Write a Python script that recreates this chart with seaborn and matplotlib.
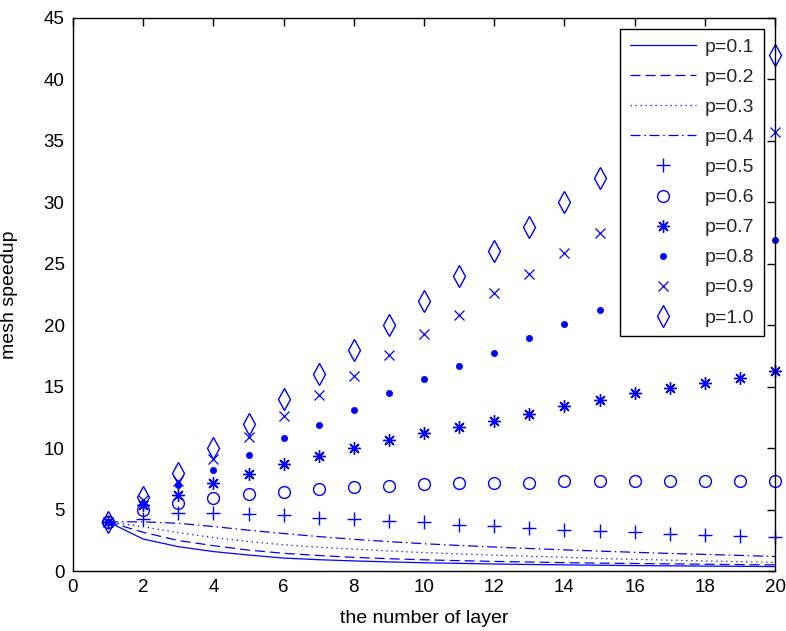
import matplotlib
matplotlib.use("Agg")
import matplotlib.pyplot as plt
import seaborn as sns

# number of layers on the x axis
layers = list(range(1, 21))

# mesh speedup for each probability p
p01 = [4.00, 2.60, 1.98, 1.58, 1.30, 1.05, 0.92, 0.82, 0.74, 0.67,
       0.62, 0.57, 0.53, 0.50, 0.47, 0.44, 0.42, 0.40, 0.38, 0.36]
p02 = [4.00, 3.15, 2.48, 2.06, 1.70, 1.44, 1.26, 1.11, 1.00, 0.91,
       0.84, 0.78, 0.73, 0.68, 0.64, 0.61, 0.58, 0.55, 0.52, 0.50]
p03 = [4.00, 3.60, 3.12, 2.72, 2.40, 2.14, 1.94, 1.78, 1.63, 1.50,
       1.39, 1.29, 1.20, 1.12, 1.02, 0.95, 0.88, 0.82, 0.76, 0.70]
p04 = [4.00, 4.00, 3.88, 3.62, 3.32, 3.05, 2.80, 2.58, 2.39, 2.22,
       2.08, 1.95, 1.83, 1.72, 1.62, 1.52, 1.43, 1.35, 1.27, 1.18]
p05 = [4.00, 4.20, 4.75, 4.70, 4.60, 4.55, 4.32, 4.25, 4.05, 3.95,
       3.78, 3.63, 3.50, 3.35, 3.25, 3.15, 3.05, 2.95, 2.85, 2.75]
p06 = [4.00, 5.00, 5.50, 5.90, 6.30, 6.45, 6.70, 6.80, 6.95, 7.05,
       7.15, 7.20, 7.20, 7.30, 7.30, 7.30, 7.30, 7.30, 7.30, 7.30]
p07 = [4.00, 5.35, 6.20, 7.15, 7.90, 8.70, 9.35, 10.00, 10.70, 11.20,
       11.70, 12.20, 12.80, 13.40, 13.90, 14.45, 14.90, 15.30, 15.70, 16.30]
p08 = [4.00, 5.55, 7.00, 8.25, 9.45, 10.80, 11.90, 13.10, 14.50, 15.60,
       16.70, 17.70, 19.00, 20.10, 21.20, 22.30, 23.50, 24.60, 25.70, 26.90]
p09 = [4.00, 5.75, 7.35, 9.10, 10.90, 12.60, 14.30, 15.90, 17.60, 19.30,
       20.80, 22.60, 24.20, 25.90, 27.50, 29.10, 30.80, 32.40, 34.00, 35.70]
p10 = [4, 6, 8, 10, 12, 14, 16, 18, 20, 22,
       24, 26, 28, 30, 32, 34, 36, 38, 40, 42]

x_ticks = [0, 2, 4, 6, 8, 10, 12, 14, 16, 18, 20]
y_ticks = [0, 5, 10, 15, 20, 25, 30, 35, 40, 45]

BLUE = "#0000ff"

sns.set_theme(style="white")
plt.rcParams["font.family"] = ["Liberation Sans", "DejaVu Sans"]

fig = plt.figure(figsize=(7.86, 6.31), dpi=100)
ax = fig.add_axes([73 / 786, 60 / 631, 702 / 786, 553 / 631])

# curves drawn as lines
line_series = [
    (p01, "p=0.1", "-"),
    (p02, "p=0.2", (0, (8, 4))),
    (p03, "p=0.3", (0, (1, 3))),
    (p04, "p=0.4", (0, (8, 3, 1.2, 3))),
]
for vals, lab, ls in line_series:
    sns.lineplot(x=layers, y=vals, ax=ax, color=BLUE, linestyle=ls,
                 linewidth=0.9, errorbar=None, label=lab)

# curves drawn as markers only
marker_series = [
    (p05, "p=0.5", dict(marker="+", markersize=10, markeredgewidth=1.0,
                        markerfacecolor="none")),
    (p06, "p=0.6", dict(marker="o", markersize=8.5, markeredgewidth=1.0,
                        markerfacecolor="none")),
    (p07, "p=0.7", dict(marker=(8, 2, 0), markersize=9, markeredgewidth=1.0,
                        markerfacecolor="none")),
    (p08, "p=0.8", dict(marker="o", markersize=4.5, markeredgewidth=0.5,
                        markerfacecolor=BLUE)),
    (p09, "p=0.9", dict(marker="x", markersize=6.5, markeredgewidth=0.9,
                        markerfacecolor="none")),
    (p10, "p=1.0", dict(marker="d", markersize=11, markeredgewidth=1.0,
                        markerfacecolor="none")),
]
for vals, lab, mk in marker_series:
    sns.lineplot(x=layers, y=vals, ax=ax, color=BLUE, linestyle="none",
                 markeredgecolor=BLUE, errorbar=None, label=lab,
                 clip_on=False, **mk)

ax.set_xlim(0, 20)
ax.set_ylim(0, 45)
ax.set_xticks(x_ticks)
ax.set_yticks(y_ticks)
ax.tick_params(direction="in", length=6, width=1, colors="black",
               labelsize=13.5, top=True, right=True, pad=6)
for side in ["left", "right", "top", "bottom"]:
    ax.spines[side].set_visible(True)
    ax.spines[side].set_color("black")
    ax.spines[side].set_linewidth(1.0)

ax.set_xlabel("the number of layer", fontsize=14, color="black")
ax.set_ylabel("mesh speedup", fontsize=14, color="black")
ax.xaxis.set_label_coords(0.5, -0.0705)
ax.yaxis.set_label_coords(-0.078, 0.5)

leg = ax.legend(loc="upper right", fontsize=14, frameon=True, fancybox=False,
                edgecolor="black", framealpha=1.0, handlelength=3.4,
                labelspacing=0.64, borderaxespad=0.55, borderpad=0.5,
                handletextpad=0.45, numpoints=1)
leg.get_frame().set_linewidth(1.0)
leg.set_zorder(5)

fig.savefig("out.png", dpi=100, facecolor="white")
